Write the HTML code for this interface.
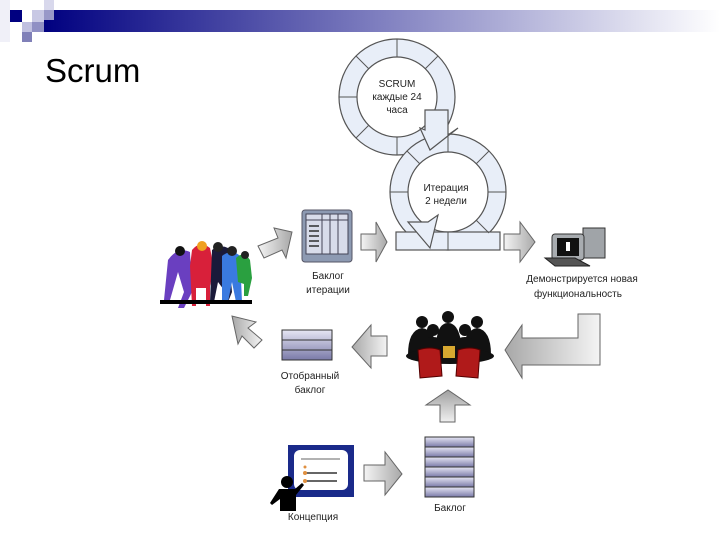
<!DOCTYPE html>
<html><head><meta charset="utf-8"><style>
html,body{margin:0;padding:0;background:#fff;}
svg{display:block;}
text{font-family:"Liberation Sans",sans-serif;}
</style></head><body>
<svg width="720" height="540" viewBox="0 0 720 540" xmlns="http://www.w3.org/2000/svg">
<defs>
<linearGradient id="bar" x1="0" x2="1" y1="0" y2="0">
<stop offset="0" stop-color="#000080"/><stop offset="0.5" stop-color="#8080c0"/><stop offset="1" stop-color="#ffffff"/>
</linearGradient>
<linearGradient id="arr" x1="0" x2="1" y1="0" y2="0">
<stop offset="0" stop-color="#f4f4f4"/><stop offset="1" stop-color="#a8a8a8"/>
</linearGradient>
<linearGradient id="arrL" x1="1" x2="0" y1="0" y2="0">
<stop offset="0" stop-color="#f4f4f4"/><stop offset="1" stop-color="#a8a8a8"/>
</linearGradient>
<linearGradient id="arrU" x1="0" x2="0" y1="1" y2="0">
<stop offset="0" stop-color="#f0f0f0"/><stop offset="1" stop-color="#a0a0a0"/>
</linearGradient>
<linearGradient id="stk" x1="0" x2="0" y1="0" y2="1">
<stop offset="0" stop-color="#e6e6f4"/><stop offset="1" stop-color="#7a7aa8"/>
</linearGradient>
</defs>
<!-- header -->
<rect x="44" y="10" width="676" height="22" fill="url(#bar)"/>
<rect x="0" y="0" width="10" height="42" fill="#f0f0f8"/>
<rect x="10" y="10" width="12" height="12" fill="#000080"/>
<rect x="32" y="10" width="12" height="12" fill="#c8c8e4"/>
<rect x="44" y="0" width="10" height="10" fill="#d8d8ec"/>
<rect x="44" y="10" width="10" height="10" fill="#9898c8"/>
<rect x="22" y="22" width="10" height="10" fill="#c0c0e0"/>
<rect x="32" y="22" width="12" height="10" fill="#9090c4"/>
<rect x="22" y="32" width="10" height="10" fill="#8080b8"/>
<text x="45" y="82" font-size="33" fill="#000">Scrum</text>

<!-- rings -->
<g fill="#e8eef8" stroke="#555" stroke-width="1.2">
<path fill-rule="evenodd" d="M339,97 a58,58 0 1,0 116,0 a58,58 0 1,0 -116,0 Z M357,97 a40,40 0 1,0 80,0 a40,40 0 1,0 -80,0 Z"/>
<path fill-rule="evenodd" d="M390,192 a58,58 0 1,0 116,0 a58,58 0 1,0 -116,0 Z M408,192 a40,40 0 1,0 80,0 a40,40 0 1,0 -80,0 Z"/>
<rect x="396" y="232" width="104" height="18"/>
<polygon points="425,110 448,110 448,135 458,128 430,150 420,128 425,130" />
<polygon points="408,222 430,248 438,215 428,222" />
</g>
<g stroke="#555" stroke-width="1">
<line x1="397" y1="39" x2="397" y2="57"/><line x1="356" y1="56" x2="369" y2="69"/><line x1="339" y1="97" x2="357" y2="97"/>
<line x1="356" y1="138" x2="369" y2="125"/><line x1="397" y1="137" x2="397" y2="155"/><line x1="438" y1="56" x2="425" y2="69"/>
<line x1="448" y1="134" x2="448" y2="152"/><line x1="489" y1="151" x2="476" y2="164"/><line x1="506" y1="192" x2="488" y2="192"/>
<line x1="489" y1="233" x2="476" y2="220"/><line x1="448" y1="232" x2="448" y2="250"/><line x1="390" y1="192" x2="408" y2="192"/><line x1="407" y1="151" x2="420" y2="164"/>
</g>
<text x="397" y="87" font-size="10" text-anchor="middle" fill="#222">SCRUM</text>
<text x="397" y="100" font-size="10" text-anchor="middle" fill="#222">каждые 24</text>
<text x="397" y="113" font-size="10" text-anchor="middle" fill="#222">часа</text>
<text x="446" y="191" font-size="10" text-anchor="middle" fill="#222">Итерация</text>
<text x="446" y="204" font-size="10" text-anchor="middle" fill="#222">2 недели</text>

<!-- arrows -->
<g stroke="#666" stroke-width="1">
<polygon points="258,246 278,238 274,228 292,232 286,258 282,250 264,258" fill="url(#arr)"/>
<polygon points="361,234 376,234 376,222 387,242 376,262 376,250 361,250" fill="url(#arr)"/>
<polygon points="504,234 520,234 520,222 535,242 520,262 520,250 504,250" fill="url(#arr)"/>
<polygon points="578,314 600,314 600,365 522,365 522,378 505,350 522,325 522,338 578,338" fill="url(#arrL)"/>
<polygon points="387,336 371,336 371,325 352,347 371,368 371,356 387,356" fill="url(#arrL)"/>
<polygon points="262,340 248,328 256,322 232,316 238,344 242,336 254,348" fill="url(#arrL)"/>
<polygon points="440,422 455,422 455,405 470,405 448,390 426,405 440,405" fill="url(#arrU)"/>
<polygon points="364,465 385,465 385,452 402,474 385,495 385,481 364,481" fill="url(#arr)"/>
</g>

<!-- backlog iteration -->
<rect x="302" y="210" width="50" height="52" rx="3" fill="#8d9ab2" stroke="#556"/>
<rect x="306" y="214" width="42" height="40" fill="#d8dcea" stroke="#445"/>
<g stroke="#445"><line x1="322" y1="214" x2="322" y2="254"/><line x1="330" y1="214" x2="330" y2="254"/><line x1="338" y1="214" x2="338" y2="254"/><line x1="306" y1="220" x2="348" y2="220"/></g>
<g stroke="#222" stroke-width="1.4"><line x1="309" y1="226" x2="319" y2="226"/><line x1="309" y1="231" x2="319" y2="231"/><line x1="309" y1="236" x2="319" y2="236"/><line x1="309" y1="241" x2="319" y2="241"/><line x1="309" y1="246" x2="319" y2="246"/></g>
<text x="328" y="279" font-size="10" text-anchor="middle" fill="#222">Баклог</text>
<text x="328" y="293" font-size="10" text-anchor="middle" fill="#222">итерации</text>

<!-- computer -->
<rect x="583" y="228" width="22" height="30" fill="#a0a4a8" stroke="#333"/>
<rect x="552" y="234" width="32" height="26" rx="3" fill="#a8acb0" stroke="#333"/>
<rect x="557" y="238" width="22" height="18" fill="#111"/>
<rect x="566" y="242" width="4" height="9" fill="#fff"/>
<polygon points="545,258 575,258 590,266 555,266" fill="#555" stroke="#222"/>
<text x="582" y="282" font-size="10" text-anchor="middle" fill="#222">Демонстрируется новая</text>
<text x="578" y="297" font-size="10" text-anchor="middle" fill="#222">функциональность</text>

<!-- team -->
<g>
<path d="M168,260 q10,-14 22,-8 l2,40 l-8,16 l-6,0 l6,-16 l-6,-20 l-8,28 l-6,0 z" fill="#6a3fc0"/>
<path d="M192,250 q8,-10 18,-2 l4,20 l-4,18 l0,20 l-4,0 l0,-18 l-10,0 l0,18 l-4,0 l-2,-40 z" fill="#d8203a"/>
<path d="M212,250 q8,-6 16,-2 l4,44 l-4,10 l-6,0 l2,-12 l-6,-8 l-4,20 l-4,0 z" fill="#1a1a3a"/>
<path d="M222,256 q10,-8 18,0 l2,46 l-6,0 l-4,-20 l-4,20 l-6,0 z" fill="#3a7ae0"/>
<path d="M236,258 q8,-8 14,2 l2,18 l-4,18 l-4,0 l0,-12 l-6,-2 z" fill="#2aa040"/>
<circle cx="180" cy="251" r="5" fill="#111"/><circle cx="202" cy="246" r="5" fill="#f0a020"/><circle cx="218" cy="247" r="5" fill="#222"/><circle cx="232" cy="251" r="5" fill="#222"/><circle cx="245" cy="255" r="4" fill="#222"/>
<rect x="160" y="300" width="92" height="4" fill="#000"/>
</g>

<!-- meeting -->
<g fill="#111">
<circle cx="422" cy="322" r="6"/><circle cx="448" cy="317" r="6"/><circle cx="477" cy="322" r="6"/><circle cx="433" cy="330" r="6"/><circle cx="465" cy="330" r="6"/>
<path d="M408,355 q0,-25 14,-27 q14,2 16,27 z"/><path d="M436,350 q0,-27 12,-27 q12,0 14,27 z"/><path d="M462,355 q2,-25 15,-27 q14,2 14,27 z"/>
<path d="M420,355 q0,-18 13,-18 q13,0 13,18 z"/><path d="M452,355 q0,-18 13,-18 q13,0 13,18 z"/>
<ellipse cx="450" cy="356" rx="44" ry="8"/>
</g>
<rect x="443" y="346" width="12" height="12" fill="#d8a830"/>
<path d="M418,350 q12,-4 22,0 l2,26 l-22,2 z" fill="#b01a1a" stroke="#500"/>
<path d="M458,350 q12,-4 22,0 l-2,28 l-22,-2 z" fill="#b01a1a" stroke="#500"/>

<!-- selected backlog -->
<rect x="282" y="330" width="50" height="30" fill="url(#stk)" stroke="#333"/>
<line x1="282" y1="340" x2="332" y2="340" stroke="#333"/><line x1="282" y1="350" x2="332" y2="350" stroke="#333"/>
<text x="310" y="379" font-size="10" text-anchor="middle" fill="#222">Отобранный</text>
<text x="310" y="393" font-size="10" text-anchor="middle" fill="#222">баклог</text>

<!-- backlog stack -->
<rect x="425" y="437" width="49" height="60" fill="#9090b8" stroke="#333"/>
<g fill="url(#stk)" stroke="#333">
<rect x="425" y="437" width="49" height="10"/><rect x="425" y="447" width="49" height="10"/><rect x="425" y="457" width="49" height="10"/><rect x="425" y="467" width="49" height="10"/><rect x="425" y="477" width="49" height="10"/><rect x="425" y="487" width="49" height="10"/>
</g>
<text x="450" y="511" font-size="10" text-anchor="middle" fill="#222">Баклог</text>

<!-- concept -->
<rect x="288" y="445" width="66" height="52" fill="#1a2a8a"/>
<rect x="294" y="450" width="54" height="40" rx="6" fill="#fff"/>
<line x1="301" y1="459" x2="340" y2="459" stroke="#999" stroke-width="1.5"/>
<line x1="306" y1="473" x2="337" y2="473" stroke="#333" stroke-width="1.5"/>
<line x1="306" y1="481" x2="337" y2="481" stroke="#333" stroke-width="1.5"/>
<circle cx="305" cy="467" r="1.5" fill="#e09040"/><circle cx="305" cy="473" r="2" fill="#e09040"/><circle cx="305" cy="481" r="2" fill="#e09040"/>
<circle cx="287" cy="482" r="6" fill="#000"/>
<path d="M279,489 l16,0 l7,-6 l2,2 l-8,10 l0,16 l-16,0 l0,-12 l-8,6 l-2,-2 z" fill="#000"/>
<text x="313" y="520" font-size="10" text-anchor="middle" fill="#222">Концепция</text>
</svg>
</body></html>
